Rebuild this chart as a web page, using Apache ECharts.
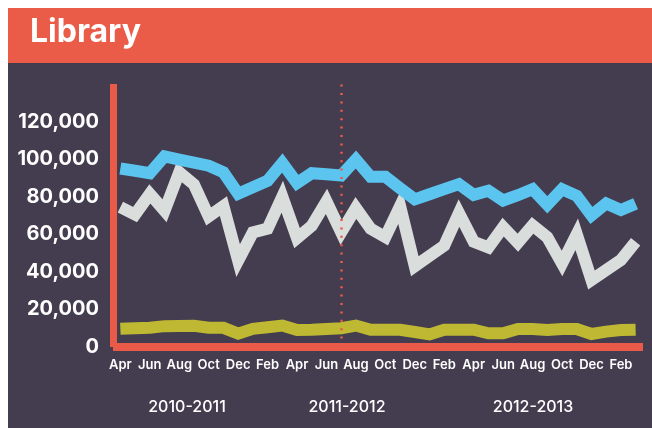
<!DOCTYPE html>
<html>
<head>
<meta charset="utf-8">
<title>Library</title>
<script src="https://cdn.jsdelivr.net/npm/echarts@6/dist/echarts.min.js"></script>
<style>
html, body { margin: 0; padding: 0; background: #fff; }
#main { width: 652px; height: 428px; }
</style>
</head>
<body>
<div id="main"></div>
<script>
// months Apr 2010 .. Mar 2013
var months = [
    'Apr 2010','May 2010','Jun 2010','Jul 2010','Aug 2010','Sep 2010','Oct 2010','Nov 2010','Dec 2010','Jan 2011','Feb 2011','Mar 2011',
    'Apr 2011','May 2011','Jun 2011','Jul 2011','Aug 2011','Sep 2011','Oct 2011','Nov 2011','Dec 2011','Jan 2012','Feb 2012','Mar 2012',
    'Apr 2012','May 2012','Jun 2012','Jul 2012','Aug 2012','Sep 2012','Oct 2012','Nov 2012','Dec 2012','Jan 2013','Feb 2013','Mar 2013'
];
var yearLabels = ['2010-2011', '2011-2012', '2012-2013'];

var blueValues = [
    95000, 93800, 92500, 101500, 99800, 98200, 96500, 93000, 81600, 85000, 88500, 98000,
    87300, 92500, 92000, 91300, 99800, 90600, 90600, 84500, 78600, 81300, 84000, 86700,
    81000, 83200, 78000, 80800, 84000, 75700, 84000, 80500, 70000, 76400, 72900, 76300
];
var grayValues = [
    74400, 70500, 81500, 72500, 93000, 86500, 69500, 75000, 46000, 61000, 63000, 80000,
    58000, 64500, 77500, 61000, 74000, 63000, 58500, 75000, 43000, 48500, 54000, 71300,
    56000, 53000, 63800, 55500, 64800, 58400, 44500, 60000, 35700, 41000, 46300, 56000
];
var oliveValues = [
    9700, 10000, 10300, 11100, 11200, 11300, 10300, 10200, 7100, 9700, 10500, 11400,
    9000, 9200, 9600, 10000, 11400, 9200, 9200, 9200, 8000, 6700, 9200, 9200,
    9200, 7300, 7300, 9600, 9600, 9000, 9600, 9600, 6900, 8200, 9000, 9200
];

var RED = '#E95A48';
var DARK = '#443D4F';
var FONT = 'Inter, "Noto Sans", sans-serif';

var chart = echarts.init(document.getElementById('main'));

function lineSeries(name, values, color) {
    return {
        name: name,
        type: 'line',
        data: values,
        symbol: 'none',
        lineStyle: { color: color, width: 12, join: 'miter', cap: 'butt' },
        emphasis: { disabled: true }
    };
}

var blue = lineSeries('blue', blueValues, '#5BC5F0');
blue.markLine = {
    silent: true,
    symbol: 'none',
    label: { show: false },
    lineStyle: { color: RED, type: [2, 6.4], width: 2.5 },
    data: [{ xAxis: 15 }]
};

function yearText(x, s) {
    return { type: 'text', x: x, y: 407, style: { text: s, fill: '#fff', font: '500 16px ' + FONT, textAlign: 'center', textVerticalAlign: 'middle' } };
}

chart.setOption({
    backgroundColor: '#fff',
    animation: false,
    graphic: [
        { type: 'rect', left: 8, top: 8, shape: { width: 644, height: 55 }, style: { fill: '#EA5B48' }, z: -10 },
        { type: 'rect', left: 8, top: 63, shape: { width: 644, height: 365 }, style: { fill: DARK }, z: -10 },
        { type: 'text', left: 30, top: 16, style: { text: 'Library', fill: '#fff', font: 'bold 32px ' + FONT } },
        yearText(187, yearLabels[0]),
        yearText(347, yearLabels[1]),
        yearText(533, yearLabels[2])
    ],
    grid: { left: 113, right: 9, top: 84, bottom: 81 },
    xAxis: {
        type: 'category',
        data: months,
        boundaryGap: true,
        axisLine: { lineStyle: { color: RED, width: 8, cap: 'butt' } },
        axisTick: {
            alignWithLabel: true,
            length: 6,
            lineStyle: { color: RED, width: 2 },
            interval: function (i, v) { return v.indexOf('Jan') === 0; }
        },
        axisLabel: {
            interval: 1,
            color: '#fff',
            fontFamily: FONT,
            fontSize: 13,
            fontWeight: 600,
            margin: 12,
            formatter: function (v) { return v.slice(0, 3); }
        },
        splitLine: { show: false }
    },
    yAxis: {
        type: 'value',
        min: 0,
        max: 140000,
        interval: 20000,
        axisLine: { show: true, lineStyle: { color: RED, width: 7, cap: 'butt' } },
        axisTick: { show: false },
        splitLine: { show: false },
        axisLabel: {
            color: '#fff',
            fontFamily: FONT,
            fontSize: 20,
            fontWeight: 'bold',
            margin: 14,
            formatter: function (v) { return v >= 140000 ? '' : v.toLocaleString('en-US'); }
        }
    },
    series: [
        lineSeries('olive', oliveValues, '#BFB832'),
        lineSeries('gray', grayValues, '#D9DDDB'),
        blue
    ]
});
</script>
</body>
</html>
